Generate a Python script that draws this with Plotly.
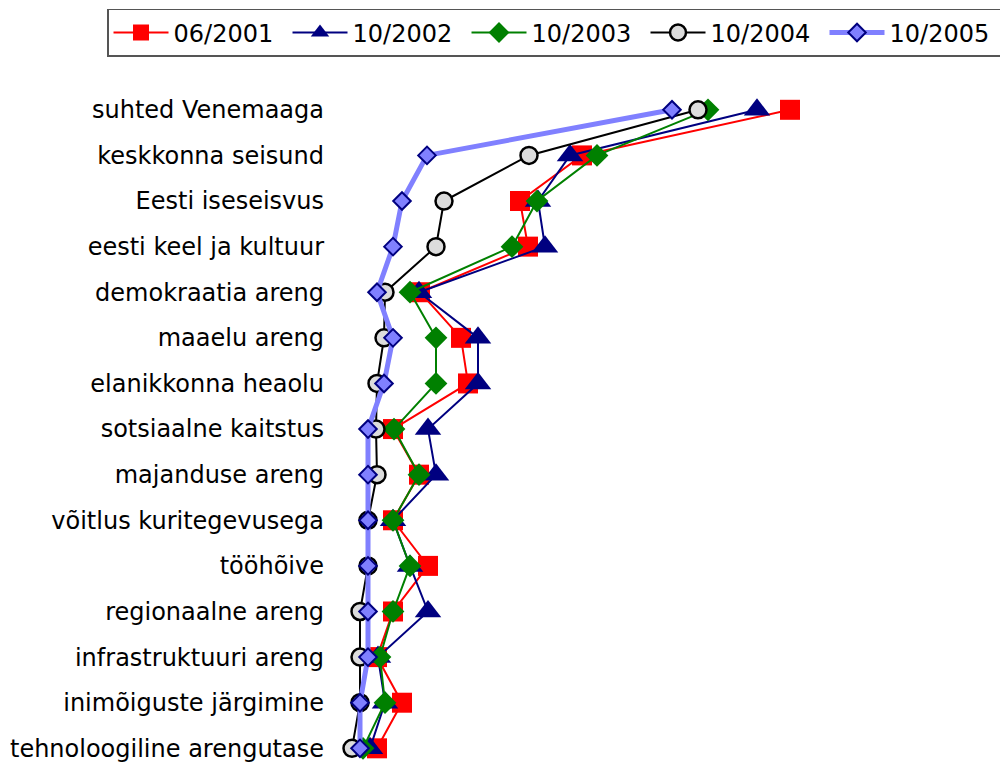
import plotly.graph_objects as go

categories = ["suhted Venemaaga", "keskkonna seisund", "Eesti iseseisvus", "eesti keel ja kultuur",
              "demokraatia areng", "maaelu areng", "elanikkonna heaolu", "sotsiaalne kaitstus",
              "majanduse areng", "võitlus kuritegevusega", "tööhõive", "regionaalne areng",
              "infrastruktuuri areng", "inimõiguste järgimine", "tehnoloogiline arengutase"]

s2001 = [90, 48.4, 36, 37.6, 16, 24.2, 25.6, 10.6, 15.8, 10.6, 17.6, 10.6, 7.4, 12.4, 7.4]
s2002 = [83.4, 46, 39.6, 41, 15.8, 27.6, 27.6, 17.6, 19.2, 10.6, 14, 17.6, 7.6, 9, 6]
s2003 = [73.6, 51.4, 39.4, 34.4, 14, 19.2, 19.2, 10.8, 15.8, 10.6, 14, 10.6, 8, 9, 4.6]
s2004 = [71.6, 37.8, 20.8, 19.2, 9, 8.8, 7.4, 7.2, 7.4, 5.6, 5.6, 4, 4, 4, 2.4]
s2005 = [66.4, 17.4, 12.4, 10.6, 7.4, 10.6, 8.8, 5.6, 5.6, 5.6, 5.6, 5.6, 5.6, 4, 4]

series_names = ["06/2001", "10/2002", "10/2003", "10/2004", "10/2005"]

ypos = list(range(len(categories)))

styles = [
    dict(line=dict(color="#ff0000", width=2), marker=dict(symbol="square", size=20, color="#ff0000")),
    dict(line=dict(color="#000080", width=2), marker=dict(symbol="triangle-up", size=23, color="#000080")),
    dict(line=dict(color="#008000", width=2), marker=dict(symbol="diamond", size=17.5, color="#008000")),
    dict(line=dict(color="#000000", width=2), marker=dict(symbol="circle", size=17, color="#dcdcdc",
                                                          line=dict(color="#000000", width=2.5))),
    dict(line=dict(color="#8080ff", width=5), marker=dict(symbol="diamond", size=13.5, color="#8080ff",
                                                          line=dict(color="#000080", width=2))),
]

fig = go.Figure()
for name, vals, st in zip(series_names, [s2001, s2002, s2003, s2004, s2005], styles):
    fig.add_trace(go.Scatter(x=vals, y=ypos, mode="lines+markers", name=name,
                             line=st["line"], marker=st["marker"], cliponaxis=False))

fig.update_layout(
    width=1008, height=762,
    paper_bgcolor="white", plot_bgcolor="white",
    margin=dict(l=325, r=8, t=79, b=8, autoexpand=False),
    font=dict(family="DejaVu Sans", size=24, color="black"),
    xaxis=dict(range=[-1.4, 133.6], visible=False, showgrid=False, zeroline=False),
    yaxis=dict(range=[14.3, -0.5], tickvals=ypos, ticktext=categories, showgrid=False,
               zeroline=False, showline=False, ticks="", automargin=False,
               ticklabelstandoff=8, tickfont=dict(size=24)),
    legend=dict(orientation="h", xref="paper", yref="paper", x=-0.3348, xanchor="left",
                y=1.1157, yanchor="top", bordercolor="#555555", borderwidth=1.5,
                font=dict(size=24), itemwidth=55, entrywidth=109, entrywidthmode="pixels",
                tracegroupgap=0),
    showlegend=True,
)

fig.write_html("out.html")
